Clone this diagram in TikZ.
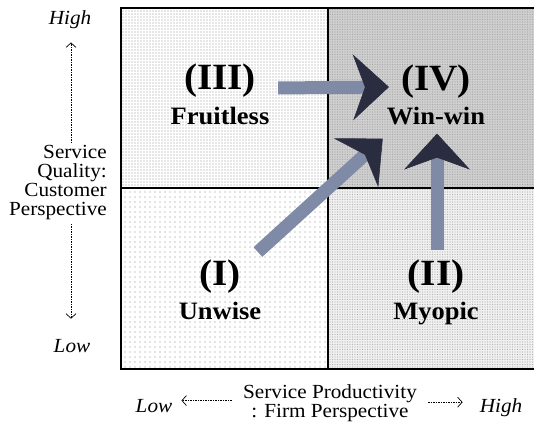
\documentclass[tikz,border=0pt]{standalone}
\usepackage{fontspec}
\setmainfont{Liberation Serif}[FakeStretch=1.06]
\usepackage{xcolor}
\definecolor{shaft}{RGB}{126,138,166}
\definecolor{headc}{RGB}{42,45,64}
\usetikzlibrary{arrows.meta, positioning, patterns.meta, calc}

\begin{document}
\begin{tikzpicture}[
  x = 1pt, y = 1pt,
  frame/.style  = {draw=black, line width=1.6pt},
  split/.style  = {draw=black, line width=1.3pt},
  qone/.style   = {preaction={fill=white}, pattern={Dots[distance=5pt, radius=0.7pt]},
                   pattern color=gray!90},
  qthree/.style = {preaction={fill=white}, pattern={Dots[distance=3pt, radius=0.65pt]},
                   pattern color=gray!85},
  qtwo/.style   = {preaction={fill=gray!12}, pattern={Dots[distance=2.5pt, radius=0.7pt]},
                   pattern color=gray!60},
  qfour/.style  = {preaction={fill=gray!38}, pattern={Dots[distance=2.5pt, radius=0.7pt]},
                   pattern color=gray!70},
  num/.style    = {font=\fontsize{37}{40}\selectfont\bfseries, inner sep=0pt},
  tag/.style    = {font=\fontsize{25}{28}\selectfont\bfseries, inner sep=0pt},
  axis/.style   = {font=\fontsize{20}{19}\selectfont, inner sep=0pt},
  axend/.style  = {font=\fontsize{20}{19}\selectfont\itshape, inner sep=0pt},
  dasharr/.style = {-{Straight Barb[length=4.5pt, width=10pt]}, line width=0.7pt,
                    dash pattern=on 1.5pt off 1pt},
  bigarr/.style = {-{Stealth[length=36pt, width=66pt, inset=12pt, line width=0.6pt, color=headc]},
                   line width=13pt, draw=shaft},
]
\useasboundingbox (0,0) rectangle (534,422);

\fill[qone]   (121,53)  rectangle (328,234);
\fill[qthree] (121,234) rectangle (328,414);
\fill[qtwo]   (328,53)  rectangle (540,234);
\fill[qfour]  (328,234) rectangle (540,414);
\draw[split] (121,234) -- (540,234) (328,53) -- (328,414);
\draw[frame] (121,53) rectangle (536,414);

\node[num] (n3) at (220,341) {(III)};
\node[num] (n4) at (436,340) {(IV)};
\node[num] (n1) at (220,145) {(I)};
\node[num] (n2) at (436,145) {(II)};
\node[tag, anchor=base] (fruit) at (220,297) {Fruitless};
\node[tag, anchor=base] (win)   at (436,297) {Win-win};
\node[tag, anchor=base] (unw)   at (220,102) {Unwise};
\node[tag, anchor=base] (myo)   at (436,102) {Myopic};

\draw[bigarr] ([xshift=22pt,yshift=-7pt]n3.east) -- ([xshift=-12pt,yshift=-5pt]n4.west);
\draw[bigarr] ([xshift=17pt,yshift=8pt]n1.north east) -- ([xshift=-4pt,yshift=-13pt]win.south west);
\draw[bigarr] ([xshift=1pt,yshift=10pt]n2.north) -- ([xshift=1pt,yshift=-8pt]win.south);

\node[axend, anchor=base] (qhigh) at (70,397) {High};
\node[axend, anchor=base] (qlow)  at (72,69)  {Low};
\node[axis, align=right, anchor=east] (qual) at (107,239.5)
  {Service\\Quality:\\Customer\\Perspective};
\draw[dasharr] ($(qhigh |- qual.north)+(1,2)$) -- ($(qhigh.south)+(1,-13)$);
\draw[dasharr] ($(qlow |- qual.south)+(-1,-4)$) -- ($(qlow.north)+(-1,21)$);

\node[axend, anchor=base] (plow)  at (154,10) {Low};
\node[axend, anchor=base] (phigh) at (501,10) {High};
\node[axis, align=center] (prod) at (330,19)
  {Service Productivity\\: Firm Perspective};
\draw[dasharr] ($(prod.west |- plow)+(-11,5)$) -- ($(plow.east)+(9,5)$);
\draw[dasharr] ($(prod.east |- phigh)+(11,5)$) -- ($(phigh.west)+(-17,5)$);
\end{tikzpicture}
\end{document}
